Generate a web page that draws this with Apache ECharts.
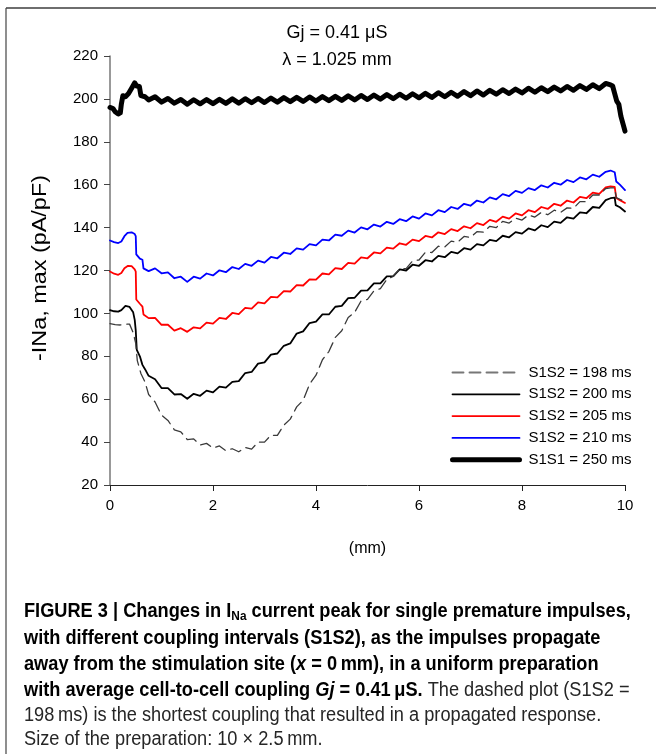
<!DOCTYPE html>
<html>
<head>
<meta charset="utf-8">
<script src="https://cdn.jsdelivr.net/npm/echarts@6/dist/echarts.min.js"></script>
<style>
html,body{margin:0;padding:0;background:#fff;}
#chart{width:656px;height:754px;}
</style>
</head>
<body>
<div id="chart"></div>
<script>
// ---- data (x in mm, y = -INa,max in pA/pF) ----
const xFine = [
  0.75, 0.875, 1, 1.125, 1.25, 1.375, 1.5, 1.625,
  1.75, 1.875, 2, 2.125, 2.25, 2.375, 2.5, 2.625,
  2.75, 2.875, 3, 3.125, 3.25, 3.375, 3.5, 3.625,
  3.75, 3.875, 4, 4.125, 4.25, 4.375, 4.5, 4.625,
  4.75, 4.875, 5, 5.125, 5.25, 5.375, 5.5, 5.625,
  5.75, 5.875, 6, 6.125, 6.25, 6.375, 6.5, 6.625,
  6.75, 6.875, 7, 7.125, 7.25, 7.375, 7.5, 7.625,
  7.75, 7.875, 8, 8.125, 8.25, 8.375, 8.5, 8.625,
  8.75, 8.875, 9, 9.125, 9.25, 9.375, 9.5, 9.625
];

// S1S2 = 198 ms (dashed)
const x198Head = [0, 0.1, 0.2, 0.3, 0.38, 0.45, 0.5, 0.53, 0.6, 0.68];
const y198Head = [95.2, 94.8, 94.6, 95, 95, 91, 86, 78, 72, 68];
const y198Body = [
  62.2, 58.7, 52.6, 50.1, 45.7, 44.8, 41.2, 41.5,
  38.7, 39.4, 37.2, 38.2, 36.0, 36.9, 35.5, 37.5,
  36.7, 40.0, 40.0, 43.2, 43.1, 47.9, 50.7, 56.4,
  59.5, 67.0, 71.2, 78.4, 82.2, 88.8, 91.9, 98.1,
  100.5, 105.8, 106.5, 110.5, 111.5, 115.9, 117.2, 120.7,
  120.9, 124.5, 124.9, 128.5, 128.4, 131.3, 131.0, 133.7,
  133.2, 135.9, 135.4, 138.1, 137.9, 140.6, 140.0, 142.9,
  142.1, 144.4, 143.5, 145.9, 144.9, 147.1, 146.0, 148.1,
  147.1, 149.2, 149.0, 152.1, 152.1, 155.2, 155.2, 158.2
];
const x198Tail = [9.72, 9.8, 9.83, 9.9, 10];
const y198Tail = [158.5, 158.5, 154, 153.2, 152];

// S1S2 = 200 ms (black)
const x200Head = [0, 0.08, 0.16, 0.22, 0.3, 0.38, 0.45, 0.48, 0.5, 0.52, 0.58, 0.63, 0.68];
const y200Head = [101.5, 101, 100.8, 101.5, 103.5, 103, 100.5, 97, 92, 83, 80, 76, 74];
const y200Body = [
  70.9, 69.3, 65.2, 65.2, 62.2, 62.4, 60.2, 62.5,
  61.6, 64.0, 63.2, 65.9, 65.4, 68.1, 68.4, 72.2,
  72.7, 76.6, 77.2, 80.8, 81.3, 84.9, 86.0, 90.6,
  91.6, 95.5, 96.2, 99.5, 99.5, 103.1, 103.5, 107.1,
  107.3, 110.6, 110.7, 114.0, 114.0, 117.3, 117.4, 120.5,
  120.0, 122.7, 122.2, 124.8, 124.2, 126.8, 126.2, 128.7,
  128.0, 130.4, 129.7, 132.3, 131.7, 134.3, 133.7, 136.2,
  135.5, 137.9, 137.2, 139.6, 138.7, 141.1, 140.2, 142.8,
  142.2, 144.8, 144.2, 147.1, 146.7, 149.6, 149.2, 152.8
];
const x200Tail = [9.72, 9.8, 9.82, 9.9, 10];
const y200Tail = [153.7, 154, 150.5, 149.5, 147.5];

// S1S2 = 205 ms (red)
const x205Head = [0, 0.08, 0.16, 0.22, 0.28, 0.35, 0.42, 0.48, 0.5, 0.51, 0.58, 0.63, 0.65];
const y205Head = [119.5, 118.5, 118, 118.8, 121, 122.2, 122, 120.5, 119.5, 106.5, 104.5, 103.2, 99.5];
const y205Body = [
  97.8, 97.9, 94.7, 94.7, 92.0, 93.1, 91.4, 93.5,
  93.0, 95.7, 95.2, 97.9, 97.4, 100.2, 99.7, 102.6,
  102.2, 105.1, 104.7, 107.7, 107.5, 110.4, 110.2, 113.2,
  113.0, 115.9, 115.7, 118.6, 118.2, 121.1, 120.7, 123.6,
  123.2, 126.1, 125.7, 128.4, 128.0, 130.7, 130.2, 132.7,
  132.0, 134.4, 133.7, 136.1, 135.4, 137.8, 137.0, 139.3,
  138.4, 140.6, 139.7, 142.1, 141.2, 143.6, 142.7, 145.1,
  144.2, 146.6, 145.7, 148.1, 147.2, 149.6, 148.7, 151.1,
  150.2, 152.6, 151.7, 154.3, 153.7, 156.3, 155.7, 158.7
];
const x205Tail = [9.72, 9.8, 9.83, 9.9, 10];
const y205Tail = [159.2, 159, 153.8, 152.8, 151.5];

// S1S2 = 210 ms (blue)
const x210Head = [0, 0.08, 0.16, 0.22, 0.28, 0.34, 0.42, 0.48, 0.5, 0.51, 0.58, 0.63, 0.65];
const y210Head = [134, 133.2, 132.8, 133.5, 136, 137.5, 137.8, 137, 136, 127.5, 125.5, 125, 121];
const y210Body = [
  119.7, 121.0, 118.7, 119.1, 116.4, 117.1, 114.7, 117.1,
  116.2, 118.6, 117.7, 120.1, 119.2, 121.6, 120.7, 123.1,
  122.2, 124.6, 123.7, 126.3, 125.7, 128.3, 127.7, 130.3,
  129.7, 132.3, 131.7, 134.4, 134.0, 136.7, 136.2, 138.6,
  137.7, 140.1, 139.2, 141.4, 140.5, 142.7, 141.7, 143.9,
  143.0, 145.2, 144.2, 146.6, 145.7, 148.1, 147.2, 149.6,
  148.7, 151.1, 150.2, 152.6, 151.7, 154.1, 153.2, 155.6,
  154.7, 157.1, 156.2, 158.4, 157.5, 159.7, 158.7, 160.9,
  160.0, 162.2, 161.2, 163.4, 162.5, 164.7, 163.7, 166.0
];
const x210Tail = [9.72, 9.8, 9.83, 9.9, 10];
const y210Tail = [166.6, 165.8, 161.5, 160, 157.5];

// S1S1 = 250 ms (thick black)
const x250Head = [0, 0.06, 0.1, 0.16, 0.2, 0.22, 0.25, 0.3, 0.36, 0.42, 0.48, 0.52, 0.57, 0.6, 0.68];
const y250Head = [196, 195.5, 194, 193, 193.5, 197.5, 201.5, 201, 202.5, 205, 207.5, 206, 205.8, 201.5, 201];
const y250Body = [
  199.5, 201.0, 198.5, 200.2, 198.0, 199.7, 197.5, 199.6,
  197.7, 199.7, 197.8, 199.8, 197.9, 200.0, 198.0, 200.1,
  198.2, 200.2, 198.3, 200.4, 198.5, 200.6, 198.7, 200.7,
  198.8, 200.9, 199.0, 201.1, 199.2, 201.2, 199.3, 201.4,
  199.5, 201.6, 199.7, 201.8, 199.9, 202.0, 200.1, 202.2,
  200.3, 202.4, 200.5, 202.6, 200.7, 202.9, 201.0, 203.1,
  201.2, 203.4, 201.5, 203.7, 201.8, 204.0, 202.2, 204.3,
  202.5, 204.6, 202.8, 205.0, 203.1, 205.2, 203.4, 205.5,
  203.7, 205.8, 204.0, 206.2, 204.4, 206.6, 204.8, 207.2
];
const x250Tail = [9.72, 9.76, 9.8, 9.84, 9.88, 9.92, 9.96, 10];
const y250Tail = [206.5, 206, 202.5, 199, 197.5, 192, 188.5, 185];

const seriesNames = ['S1S2 = 198 ms', 'S1S2 = 200 ms', 'S1S2 = 205 ms', 'S1S2 = 210 ms', 'S1S1 = 250 ms'];
const xTicks = [0, 2, 4, 6, 8, 10];
const yTicks = [20, 40, 60, 80, 100, 120, 140, 160, 180, 200, 220];

function pairs(hx, hy, by, tx, ty) {
  const out = [];
  hx.forEach((x, i) => out.push([x, hy[i]]));
  xFine.forEach((x, i) => out.push([x, by[i]]));
  tx.forEach((x, i) => out.push([x, ty[i]]));
  return out;
}

const FONT = '"Liberation Sans", Arial, Helvetica, sans-serif';
const CAP_SCALE = 0.91;

const chart = echarts.init(document.getElementById('chart'), null, {renderer: 'canvas'});

const styles = [
  {color: '#3a3a3a', width: 1.3, type: [11, 6], z: 4},
  {color: '#000000', width: 1.8, type: 'solid', z: 4},
  {color: '#ff0000', width: 1.8, type: 'solid', z: 3},
  {color: '#0000ff', width: 1.8, type: 'solid', z: 3},
  {color: '#000000', width: 5, type: 'solid', z: 2}
];

function lineSeries(idx, data) {
  const s = styles[idx];
  return {
    name: seriesNames[idx], type: 'line', data: data, symbol: 'none', smooth: false,
    z: s.z, animation: false,
    lineStyle: {color: s.color, width: s.width, type: s.type, join: 'round', cap: 'round'},
    itemStyle: {color: s.color}
  };
}

function capText(y, text, rich) {
  return {type: 'text', x: 24, y: y, scaleX: CAP_SCALE, style: {text: text, verticalAlign: 'middle', rich: rich}};
}
const richBase = {
  b: {fontFamily: FONT, fontSize: 20, fontWeight: 'bold', fill: '#000'},
  bi: {fontFamily: FONT, fontSize: 20, fontWeight: 'bold', fontStyle: 'italic', fill: '#000'},
  bs: {fontFamily: FONT, fontSize: 13, fontWeight: 'bold', fill: '#000', padding: [10, 0, 0, 0]},
  n: {fontFamily: FONT, fontSize: 20, fill: '#262626'}
};

const option = {
  animation: false,
  backgroundColor: '#ffffff',
  textStyle: {fontFamily: FONT},
  grid: {left: 110, right: 31, top: 56, bottom: 269, containLabel: false},
  xAxis: {
    type: 'value', min: xTicks[0], max: xTicks[xTicks.length - 1], interval: 2,
    name: '(mm)', nameLocation: 'middle', nameGap: 56,
    nameTextStyle: {fontSize: 16, color: '#000', fontFamily: FONT},
    axisLine: {show: true, onZero: false, lineStyle: {color: '#222', width: 1}},
    axisTick: {show: true, length: 6, lineStyle: {color: '#222'}},
    axisLabel: {fontSize: 15, color: '#000', margin: 13, fontFamily: FONT},
    splitLine: {show: false}
  },
  yAxis: {
    type: 'value', min: yTicks[0], max: yTicks[yTicks.length - 1], interval: 20,
    axisLine: {show: true, onZero: false, lineStyle: {color: '#777', width: 1.5}},
    axisTick: {show: true, length: 6, lineStyle: {color: '#444'}},
    axisLabel: {fontSize: 15, color: '#000', margin: 12, fontFamily: FONT},
    splitLine: {show: false}
  },
  legend: {
    data: seriesNames.map((n, i) => ({
      name: n,
      lineStyle: {width: styles[i].width + (i === 0 ? 0.6 : 0), type: styles[i].type, color: i === 0 ? '#777' : styles[i].color},
      itemStyle: {opacity: 0}
    })),
    orient: 'vertical', left: 445, top: 360,
    itemWidth: 67, itemHeight: 14, itemGap: 6.8,
    itemStyle: {opacity: 0},
    textStyle: {fontSize: 15, color: '#000', fontFamily: FONT, padding: [0, 0, 0, 4]},
    selectedMode: false
  },
  graphic: [
    {type: 'line', shape: {x1: 6, y1: 8, x2: 656, y2: 8}, style: {stroke: '#6e6e6e', lineWidth: 2}},
    {type: 'line', shape: {x1: 6, y1: 8, x2: 6, y2: 754}, style: {stroke: '#444', lineWidth: 1.2}},
    {type: 'text', x: 337, y: 33, style: {text: 'Gj = 0.41 \u03BCS', font: '18px ' + FONT, fill: '#000', align: 'center', verticalAlign: 'middle'}},
    {type: 'text', x: 337, y: 60, style: {text: '\u03BB = 1.025 mm', font: '18px ' + FONT, fill: '#000', align: 'center', verticalAlign: 'middle'}},
    {type: 'text', x: 40, y: 268, rotation: Math.PI / 2, scaleX: 1.17,
     style: {text: '-INa, max (pA/pF)', font: '20px ' + FONT, fill: '#000', align: 'center', verticalAlign: 'middle'}},
    capText(611, '{b|FIGURE 3 | Changes in I}{bs|Na}{b| current peak for single premature impulses,}', richBase),
    capText(638, '{b|with different coupling intervals (S1S2), as the impulses propagate}', richBase),
    capText(664, '{b|away from the stimulation site (}{bi|x}{b| = 0\u2009mm), in a uniform preparation}', richBase),
    capText(690, '{b|with average cell-to-cell coupling }{bi|Gj}{b| = 0.41\u2009\u03BCS.}{n| The dashed plot (S1S2 =}', richBase),
    capText(715, '{n|198\u2009ms) is the shortest coupling that resulted in a propagated response.}', richBase),
    capText(739, '{n|Size of the preparation: 10 \u00D7 2.5\u2009mm.}', richBase)
  ],
  series: [
    lineSeries(4, pairs(x250Head, y250Head, y250Body, x250Tail, y250Tail)),
    lineSeries(3, pairs(x210Head, y210Head, y210Body, x210Tail, y210Tail)),
    lineSeries(2, pairs(x205Head, y205Head, y205Body, x205Tail, y205Tail)),
    lineSeries(1, pairs(x200Head, y200Head, y200Body, x200Tail, y200Tail)),
    lineSeries(0, pairs(x198Head, y198Head, y198Body, x198Tail, y198Tail))
  ]
};
chart.setOption(option);
</script>
</body>
</html>
